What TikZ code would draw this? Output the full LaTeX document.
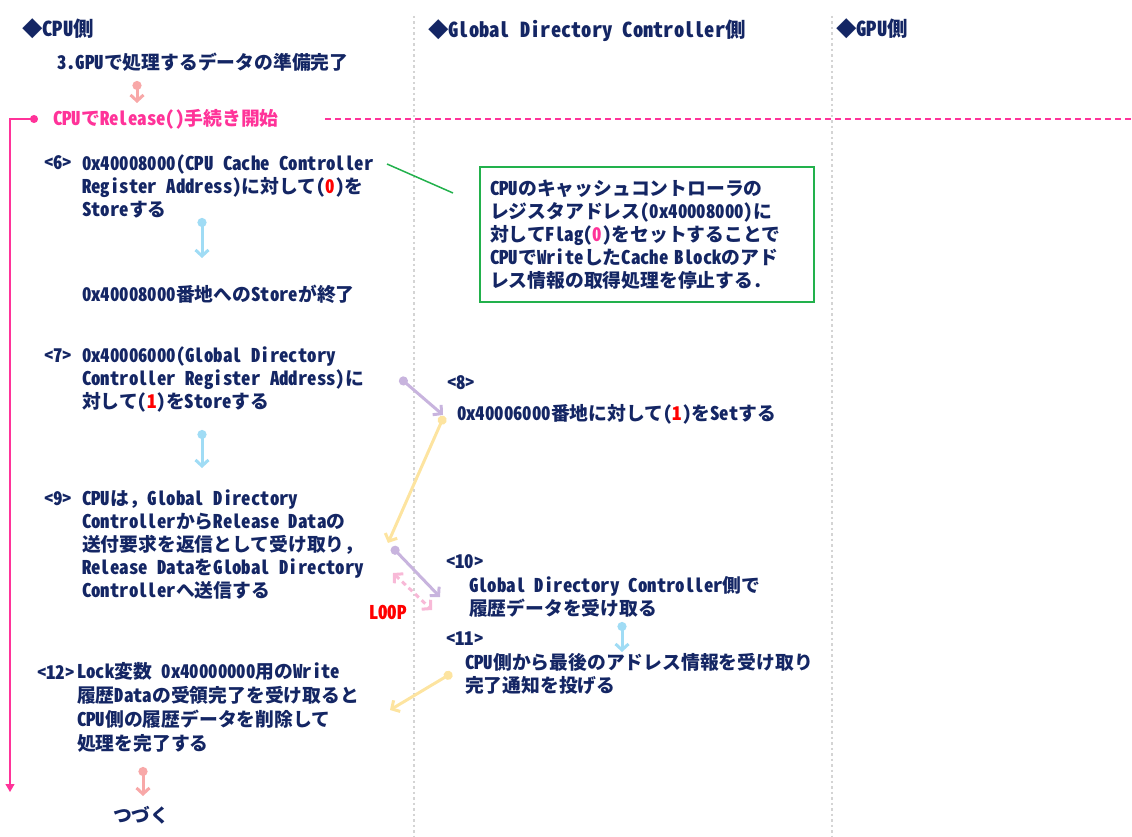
\documentclass[tikz,border=0pt]{standalone}
\usepackage{fontspec}
\setmainfont{Noto Sans CJK JP}[RawFeature=+hwid]
\newfontfamily\fullw{Noto Sans CJK JP}
\usetikzlibrary{arrows.meta}
\definecolor{navy}{RGB}{20,38,100}
\definecolor{hotpink}{RGB}{255,51,153}
\definecolor{salmon}{RGB}{248,168,168}
\definecolor{skyb}{RGB}{160,220,245}
\definecolor{lilac}{RGB}{200,180,222}
\definecolor{paleyel}{RGB}{253,228,160}
\definecolor{looppink}{RGB}{248,185,215}
\definecolor{notegreen}{RGB}{34,177,76}
\definecolor{gridgray}{RGB}{212,212,212}
\definecolor{pred}{RGB}{255,0,0}
\newcommand{\fwcomma}{{\fullw\bfseries ，}}
\tikzset{
  txt/.style={inner sep=0pt, outer sep=0pt, text=navy, font=\fontsize{18.8}{23}\selectfont\bfseries, align=left, anchor=base west},
  head/.style={txt, font=\fontsize{20.5}{23}\selectfont\bfseries},
  flow/.style={line width=3pt, line cap=round, {Circle[length=9pt]}-{Straight Barb[length=6pt,width=13pt]}},
  divider/.style={gridgray, line width=2.5pt, dash pattern=on 2.5pt off 3pt},
}
\begin{document}
\begin{tikzpicture}[x=1pt,y=-1pt]
\useasboundingbox (0,0) rectangle (1132,837);
% column dividers
\coordinate (d1t) at (414,16); \coordinate (d1b) at (414,837);
\coordinate (d2t) at (832,16); \coordinate (d2b) at (832,837);
\draw[divider] (d1t) -- (d1b);
\draw[divider] (d2t) -- (d2b);
% headers
\node[head] (h1) at (22,37) {◆CPU側};
\node[head] (h2) at (428,38) {◆Global Directory Controller側};
\node[head] (h3) at (836,37) {◆GPU側};
% texts (multi-line nodes are placed by the baseline of their last line)
\node[txt] (s3) at (57,70) {3.GPUで処理するデータの準備完了};
\node[txt, text=hotpink] (rel) at (53,126) {CPUでRelease()手続き開始};
\node[txt] (l6) at (44,170) {<6>};
\node[txt] (t6) at (82,216) {0x40008000(CPU Cache Controller\\Register Address)に対して(\textcolor{pred}{0})を\\Storeする};
\node[txt] (t6b) at (82,301) {0x40008000番地へのStoreが終了};
\node[txt, anchor=north west, draw=notegreen, line width=1.5pt, minimum width=334pt, minimum height=135pt, text width=314pt] (note) at (480,167)
 {CPUのキャッシュコントローラの\\レジスタアドレス(0x40008000)に\\対してFlag(\textcolor{hotpink}{0})をセットすることで\\CPUでWriteしたCache Blockのアド\\レス情報の取得処理を停止する.};
\node[txt] (l7) at (44,362) {<7>};
\node[txt] (t7) at (82,408) {0x40006000(Global Directory\\Controller Register Address)に\\対して(\textcolor{pred}{1})をStoreする};
\node[txt] (l8) at (447,389) {<8>};
\node[txt] (t8) at (457,420) {0x40006000番地に対して(\textcolor{pred}{1})をSetする};
\node[txt] (l9) at (44,505) {<9>};
\node[txt] (t9) at (82,597) {CPUは\fwcomma Global Directory\\ControllerからRelease Dataの\\送付要求を返信として受け取り\fwcomma\\Release DataをGlobal Directory\\Controllerへ送信する};
\node[txt, text=pred] (loop) at (369,619) {LOOP};
\node[txt] (l10) at (446,568) {<10>};
\node[txt] (t10) at (469,615) {Global Directory Controller側で\\履歴データを受け取る};
\node[txt] (l11) at (446,645) {<11>};
\node[txt] (t11) at (465,692) {CPU側から最後のアドレス情報を受け取り\\完了通知を投げる};
\node[txt] (l12) at (37,679) {<12>};
\node[txt, font=\fontsize{18.8}{23.7}\selectfont\bfseries] (t12) at (77,750) {Lock変数 0x40000000用のWrite\\履歴Dataの受領完了を受け取ると\\CPU側の履歴データを削除して\\処理を完了する};
\node[txt] (cont) at (113,822) {つづく};
% pink release line
\coordinate (relDot) at (38,119);
\coordinate (pinkEnd) at (10,792);
\draw[hotpink, line width=1.2pt, {Circle[length=8pt]}-{Triangle[length=8pt,width=9pt]}] (relDot) -| (pinkEnd);
\coordinate (dashL) at (325,119); \coordinate (dashR) at (1132,119);
\draw[hotpink, line width=1.3pt, dash pattern=on 6pt off 4pt] (dashL) -- (dashR);
% green callout line
\coordinate (g1) at (387,164); \coordinate (g2) at (453,193);
\draw[notegreen, line width=1.5pt] (g1) -- (g2);
% flow arrows
\coordinate (a1s) at (137,81);  \coordinate (a1e) at (137,103);
\coordinate (a2s) at (202,218); \coordinate (a2e) at (202,258);
\coordinate (a3s) at (202,430); \coordinate (a3e) at (202,468);
\coordinate (a4s) at (400,378); \coordinate (a4e) at (443,415);
\coordinate (a5s) at (444,416); \coordinate (a5e) at (388,543);
\coordinate (a6s) at (392,547); \coordinate (a6e) at (440,597);
\coordinate (a7s) at (393,573); \coordinate (a7e) at (432,610);
\coordinate (a8s) at (622,622); \coordinate (a8e) at (622,652);
\coordinate (a9s) at (452,673); \coordinate (a9e) at (390,710);
\coordinate (a10s) at (143,767); \coordinate (a10e) at (143,796);
\draw[flow, salmon] (a1s) -- (a1e);
\draw[flow, skyb] (a2s) -- (a2e);
\draw[flow, skyb] (a3s) -- (a3e);
\draw[flow, lilac] (a4s) -- (a4e);
\draw[flow, paleyel] (a5s) -- (a5e);
\draw[flow, lilac] (a6s) -- (a6e);
\draw[looppink, line width=3pt, dash pattern=on 5pt off 4pt, {Straight Barb[length=6pt,width=13pt]}-{Straight Barb[length=6pt,width=13pt]}] (a7s) -- (a7e);
\draw[flow, skyb] (a8s) -- (a8e);
\draw[flow, paleyel] (a9s) -- (a9e);
\draw[flow, salmon] (a10s) -- (a10e);
\end{tikzpicture}
\end{document}
